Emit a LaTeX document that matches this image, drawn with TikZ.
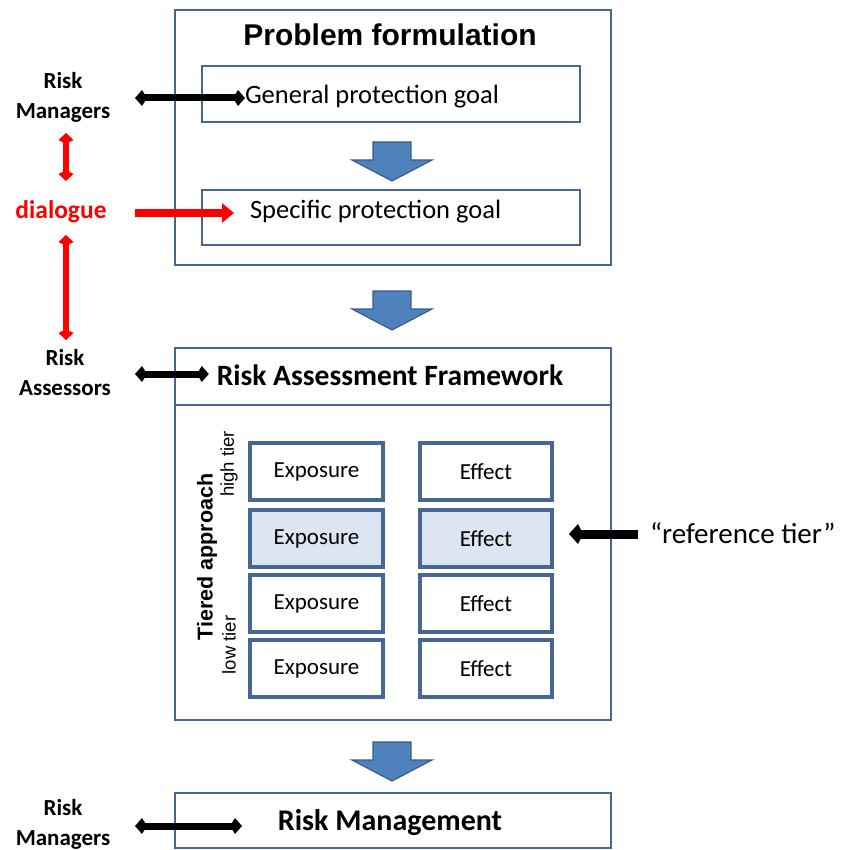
\documentclass[tikz,border=0pt]{standalone}
\usepackage{fontspec}
\setmainfont{Carlito}
\newfontfamily\arialf{Liberation Sans}
\usetikzlibrary{arrows.meta}
\definecolor{boxblue}{RGB}{70,103,150}
\definecolor{arrfill}{RGB}{79,129,189}
\definecolor{arrline}{RGB}{56,93,138}
\definecolor{hifill}{RGB}{220,230,242}
\definecolor{dred}{RGB}{255,0,0}
\newcommand{\fs}[1]{\fontsize{#1}{#1}\selectfont}
\tikzset{
  bluebox/.style={draw=boxblue, line width=2.9pt, inner sep=0pt, outer sep=0pt, anchor=north west},
  tierbox/.style={bluebox, line width=3.4pt, anchor=center, minimum height=57pt, font=\fs{23}},
  txt/.style={inner sep=0pt, outer sep=0pt},
  blk/.style={line width=7pt, black, {Kite[length=12pt,width=16pt,inset=5pt]}-{Kite[length=12pt,width=16pt,inset=5pt]}},
  blkone/.style={line width=9pt, black, -{Kite[length=14pt,width=20pt,inset=5pt]}},
  redtwo/.style={line width=6.5pt, dred, {Kite[length=11pt,width=15pt,inset=4pt]}-{Kite[length=11pt,width=15pt,inset=4pt]}},
  redone/.style={line width=7.5pt, dred, -{Triangle[length=12pt,width=19pt]}},
  pics/blockarr/.style={code={
    \draw[fill=arrfill, draw=arrline, line width=1.2pt, line join=miter]
      (-19,0) -- (19,0) -- (19,18) -- (40,18) -- (0,39) -- (-40,18) -- (-19,18) -- cycle;}},
}
\begin{document}
\begin{tikzpicture}[x=1pt,y=-1pt]
\useasboundingbox (0,0) rectangle (841,850);

% Problem formulation
\node[bluebox, minimum width=436pt, minimum height=255pt] (pf) at (175,10) {};
\node[txt, font=\arialf\bfseries\fs{30}] (pft) at (390,35) {Problem formulation};
\node[bluebox, minimum width=378pt, minimum height=56pt] (gpg) at (202,66) {};
\node[txt, anchor=west, font=\fs{26.5}] (gpgt) at (245,97) {General protection goal};
\pic at (392,142) {blockarr};
\node[bluebox, minimum width=378pt, minimum height=55pt] (spg) at (202,190) {};
\node[txt, anchor=west, font=\fs{26.5}] (spgt) at (250,212) {Specific protection goal};

\pic at (392,291) {blockarr};

% Risk assessment framework
\node[bluebox, minimum width=436pt, minimum height=57pt] (rafh) at (175,348) {};
\node[txt, font=\bfseries\fs{29.5}] (raft) at (390,375) {Risk Assessment Framework};
\node[bluebox, minimum width=436pt, minimum height=315pt] (rafb) at (175,405) {};

\node[tierbox, minimum width=133pt] (ex1) at (316.5,471.5) {Exposure};
\node[tierbox, minimum width=132pt] (ef1) at (486,471.5) {Effect};
\node[tierbox, minimum width=133pt, fill=hifill] (ex2) at (316.5,538.5) {Exposure};
\node[tierbox, minimum width=132pt, fill=hifill] (ef2) at (486,538.5) {Effect};
\node[tierbox, minimum width=133pt] (ex3) at (316.5,603.5) {Exposure};
\node[tierbox, minimum width=132pt] (ef3) at (486,603.5) {Effect};
\node[tierbox, minimum width=133pt] (ex4) at (316.5,668.5) {Exposure};
\node[tierbox, minimum width=132pt] (ef4) at (486,668.5) {Effect};

\node[txt, rotate=90, font=\arialf\bfseries\fs{21.5}] (tiered) at (207,557) {Tiered approach};
\node[txt, rotate=90, font=\arialf\fs{18.5}] (hight) at (229,464) {high tier};
\node[txt, rotate=90, font=\arialf\fs{18.5}] (lowt) at (229,645) {low tier};

\node[txt, anchor=west, font=\fs{29}] (reft) at (650,533) {“reference tier”};
\coordinate (refs) at (638,534);
\draw[blkone] (refs) -- ([xshift=17pt]ef2.east |- refs);

\pic at (392,742) {blockarr};

% Risk management
\node[bluebox, minimum width=436pt, minimum height=55pt] (rm) at (175,793) {};
\node[txt, font=\bfseries\fs{30}] (rmt) at (390,823) {Risk Management};

% left labels
\node[txt, align=center, font=\bfseries\fs{23}] (rman1) at (63,97) {Risk\\[7pt]Managers};
\node[txt, font=\bfseries\fs{25.5}, text=dred] (dia) at (61,212) {dialogue};
\node[txt, align=center, font=\bfseries\fs{23}] (rass) at (65,373) {Risk\\[7pt]Assessors};
\node[txt, align=center, font=\bfseries\fs{23}] (rman2) at (63,824) {Risk\\[7pt]Managers};

\coordinate (a1) at (135,98);
\coordinate (a2) at (135,213);
\coordinate (a3) at (135,374);
\coordinate (a4) at (135,826);
\draw[blk] (a1) -- (a1 -| gpgt.west);
\draw[redone] (a2) -- ([xshift=-16pt]a2 -| spgt.west);
\draw[blk] (a3) -- ([xshift=-8pt]a3 -| raft.west);
\draw[blk] (a4) -- (242,826);
\coordinate (v1) at (66,133);
\coordinate (v2) at (66,181);
\coordinate (v3) at (66,235);
\coordinate (v4) at (66,340);
\draw[redtwo] (v1) -- (v2);
\draw[redtwo] (v3) -- (v4);
\end{tikzpicture}
\end{document}
